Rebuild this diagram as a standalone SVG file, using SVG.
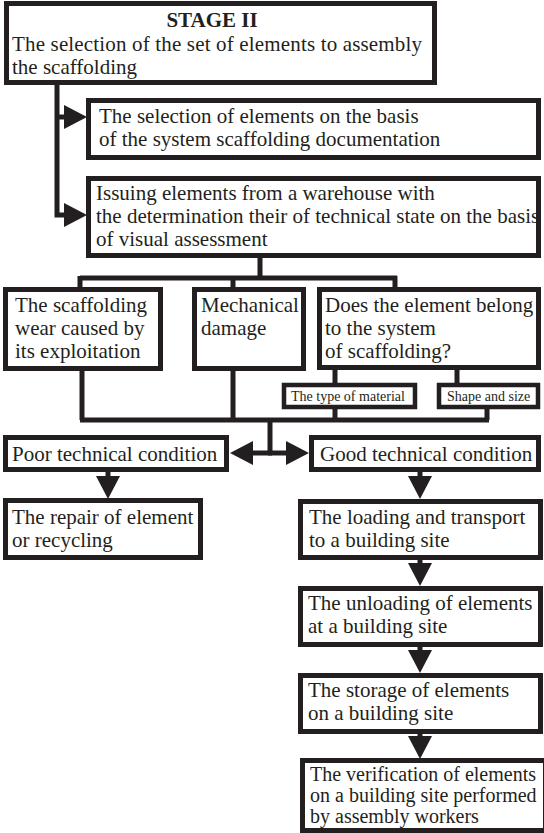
<svg xmlns="http://www.w3.org/2000/svg" width="544" height="833" viewBox="0 0 544 833">
<style>
.box{fill:#fff;stroke:#231f20;stroke-width:5}
.sub{fill:#fff;stroke:#231f20;stroke-width:4.5}
.t{font-family:"Liberation Serif","Times New Roman",serif;font-size:21px;fill:#231f20}
.s{font-family:"Liberation Serif","Times New Roman",serif;font-size:14px;fill:#231f20}
.b{font-weight:bold}
.v{font-size:20px}
.c{fill:none;stroke:#231f20;stroke-width:5}
</style>
<defs>
<marker id="ah" markerUnits="userSpaceOnUse" markerWidth="24" markerHeight="26" refX="0" refY="12" orient="auto" overflow="visible">
<path d="M0,0 L23,12 L0,24 Z" fill="#231f20"/>
</marker>
</defs>
<rect width="544" height="833" fill="#fff"/>
<g id="connectors">
<path class="c" d="M57,85 V215 H64" marker-end="url(#ah)"/>
<path class="c" d="M57,117 H64" marker-end="url(#ah)"/>
<path class="c" d="M260,258 V278 M80,278 H397 M80,276 V288 M233,278 V288 M395,276 V288"/>
<path class="c" d="M335,370 V384 M457,370 V384"/>
<path class="c" d="M82,371 V420 M233,371 V420 M335,409 V420 M487,409 V420 M80,420 H489"/>
<path class="c" d="M270,420 V455"/>
<path class="c" d="M272,453 H253" marker-end="url(#ah)"/>
<path class="c" d="M268,453 H286" marker-end="url(#ah)"/>
<path class="c" d="M108,472 V476" marker-end="url(#ah)"/>
<path class="c" d="M420,472 V476" marker-end="url(#ah)"/>
<path class="c" d="M420,560 V563" marker-end="url(#ah)"/>
<path class="c" d="M420,647 V650" marker-end="url(#ah)"/>
<path class="c" d="M420,734 V736" marker-end="url(#ah)"/>
</g>
<g id="stage">
<rect class="box" x="6.5" y="3.5" width="428" height="79"/>
<text class="t b" x="212" y="27" text-anchor="middle">STAGE II</text>
<text class="t" x="12" y="51" textLength="410">The selection of the set of elements to assembly</text>
<text class="t" x="12" y="74">the scaffolding</text>
</g>
<g id="selection">
<rect class="box" x="88.5" y="100.5" width="450" height="57"/>
<text class="t" x="99" y="123">The selection of elements on the basis</text>
<text class="t" x="99" y="146">of the system scaffolding documentation</text>
</g>
<g id="issuing">
<text class="t" x="96" y="200">Issuing elements from a warehouse with</text>
<text class="t" x="96" y="223">the determination their of technical state on the basis</text>
<text class="t" x="96" y="246">of visual assessment</text>
<rect class="box" x="88.5" y="178.5" width="450" height="77" style="fill:none"/>
</g>
<g id="wear">
<rect class="box" x="5.5" y="289.5" width="155" height="79"/>
<text class="t" x="15" y="312">The scaffolding</text>
<text class="t" x="15" y="335">wear caused by</text>
<text class="t" x="15" y="358">its exploitation</text>
</g>
<g id="damage">
<rect class="box" x="194.5" y="289.5" width="109" height="79"/>
<text class="t" x="201" y="312">Mechanical</text>
<text class="t" x="201" y="335">damage</text>
</g>
<g id="belong">
<rect class="box" x="319.5" y="289.5" width="219" height="78"/>
<text class="t" x="325" y="312">Does the element belong</text>
<text class="t" x="325" y="335">to the system</text>
<text class="t" x="325" y="358">of scaffolding?</text>
</g>
<g id="material">
<rect class="sub" x="284" y="385" width="131" height="22"/>
<text class="s" x="291" y="401">The type of material</text>
</g>
<g id="shape">
<rect class="sub" x="439" y="385" width="99" height="22"/>
<text class="s" x="447" y="401">Shape and size</text>
</g>
<g id="poor">
<rect class="box" x="5.5" y="437.5" width="221" height="32"/>
<text class="t" x="12" y="461">Poor technical condition</text>
</g>
<g id="good">
<rect class="box" x="311.5" y="437.5" width="227" height="32"/>
<text class="t" x="320" y="461">Good technical condition</text>
</g>
<g id="repair">
<rect class="box" x="5.5" y="500.5" width="195" height="57"/>
<text class="t" x="12" y="524">The repair of element</text>
<text class="t" x="12" y="547">or recycling</text>
</g>
<g id="loading">
<rect class="box" x="300.5" y="501.5" width="240" height="56"/>
<text class="t" x="309" y="524">The loading and transport</text>
<text class="t" x="309" y="547">to a building site</text>
</g>
<g id="unloading">
<rect class="box" x="300.5" y="588.5" width="240" height="56"/>
<text class="t" x="308" y="610">The unloading of elements</text>
<text class="t" x="308" y="633">at a building site</text>
</g>
<g id="storage">
<rect class="box" x="300.5" y="675.5" width="240" height="56"/>
<text class="t" x="308" y="697">The storage of elements</text>
<text class="t" x="308" y="720">on a building site</text>
</g>
<g id="verification">
<rect class="box" x="302.5" y="760.5" width="243" height="70"/>
<text class="t v" x="310" y="781">The verification of elements</text>
<text class="t v" x="310" y="802">on a building site performed</text>
<text class="t v" x="310" y="823">by assembly workers</text>
</g>
</svg>
